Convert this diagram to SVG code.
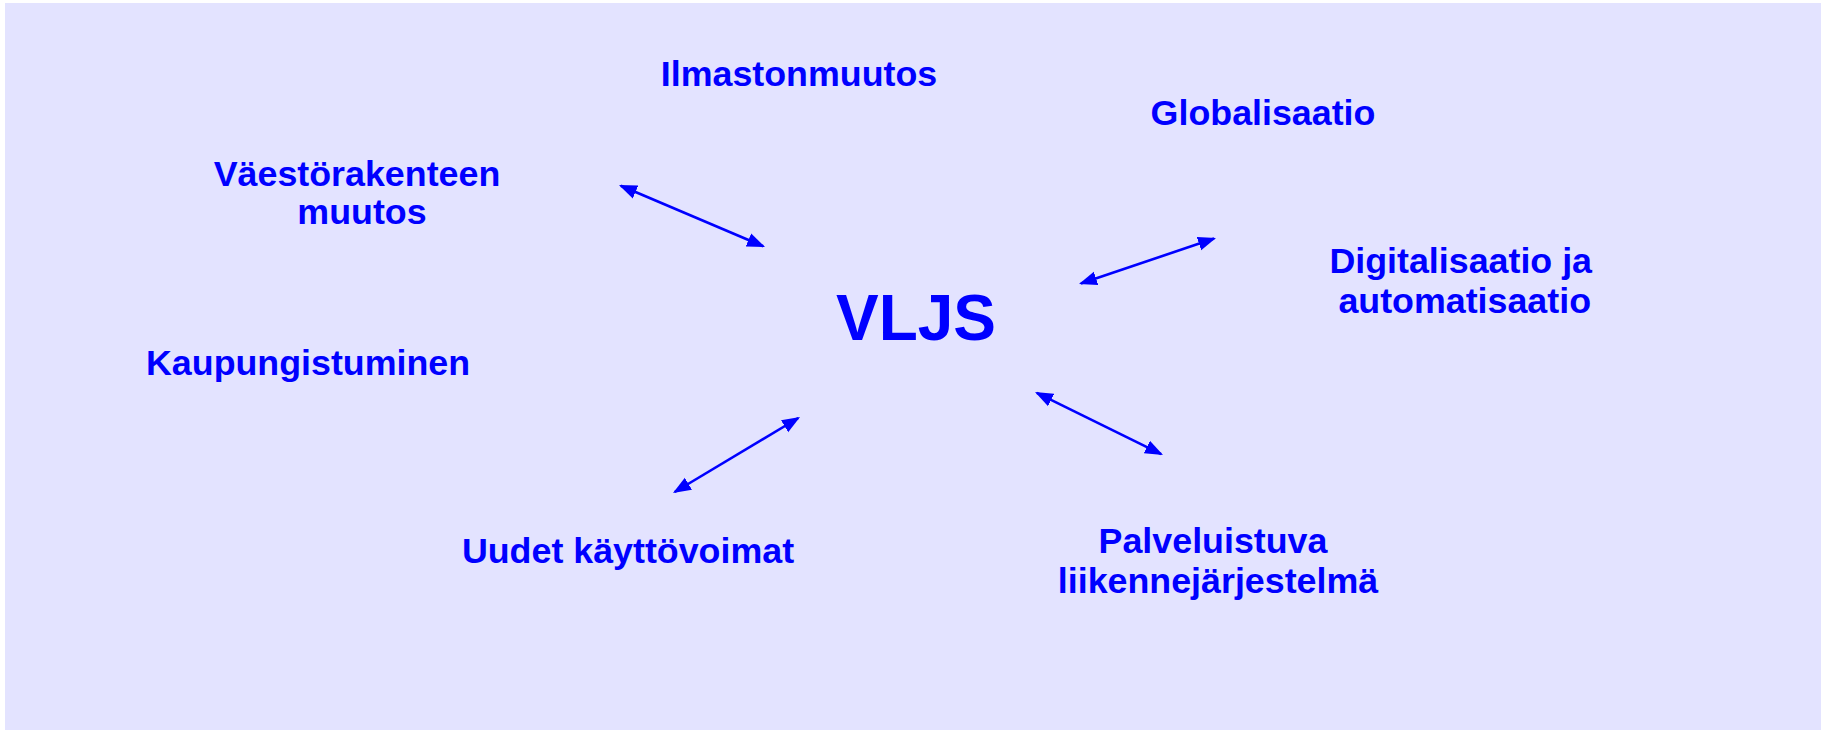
<svg xmlns="http://www.w3.org/2000/svg" width="1825" height="730" viewBox="0 0 1825 730">
<style>
.t{font-family:"Liberation Sans",Arial,sans-serif;font-weight:bold;font-size:35.8px;fill:#0000ff}
.c{text-anchor:middle}
.e{text-anchor:end}
.big{font-size:64px}
.a{stroke:#0000ff;stroke-width:2.6;fill:none;marker-start:url(#ah);marker-end:url(#ah)}
</style>
<defs>
<marker id="ah" markerUnits="userSpaceOnUse" markerWidth="19" markerHeight="16" viewBox="0 0 19 16" refX="16" refY="8" orient="auto-start-reverse">
<path d="M0,1 L18,8 L0,15 z" fill="#0000ff"/>
</marker>
</defs>
<rect x="0" y="0" width="1825" height="730" fill="#ffffff"/>
<rect x="5" y="3" width="1816" height="727" fill="#e3e3ff"/>
<g id="connectors">
<line class="a" x1="620.8" y1="185.8" x2="763.2" y2="246.2"/>
<line class="a" x1="1080.9" y1="283.4" x2="1214.1" y2="238.6"/>
<line class="a" x1="674.7" y1="492" x2="798.3" y2="418"/>
<line class="a" x1="1036.8" y1="392.9" x2="1161.2" y2="454.1"/>
</g>
<g id="vljs"><text class="t c big" x="916" y="340">VLJS</text></g>
<g id="ilmastonmuutos"><text class="t c" x="799" y="86">Ilmastonmuutos</text></g>
<g id="globalisaatio"><text class="t c" x="1263" y="125">Globalisaatio</text></g>
<g id="vaestorakenne"><text class="t c" x="357" y="186">Väestörakenteen</text><text class="t c" x="362" y="224">muutos</text></g>
<g id="kaupungistuminen"><text class="t" x="146" y="375">Kaupungistuminen</text></g>
<g id="digitalisaatio"><text class="t e" x="1592" y="273">Digitalisaatio ja</text><text class="t e" x="1591" y="313">automatisaatio</text></g>
<g id="kayttovoimat"><text class="t c" x="628" y="563">Uudet käyttövoimat</text></g>
<g id="palveluistuva"><text class="t c" x="1213" y="553">Palveluistuva</text><text class="t c" x="1218" y="593">liikennejärjestelmä</text></g>
</svg>
